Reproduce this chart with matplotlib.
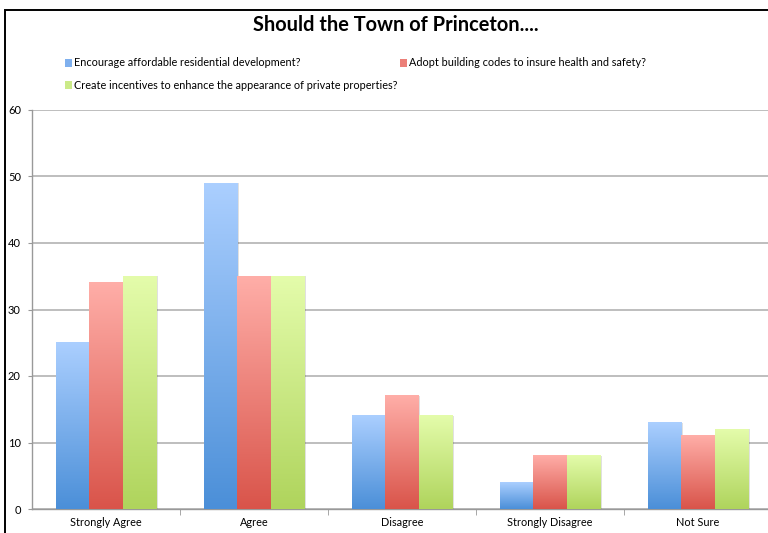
import numpy as np
import matplotlib
matplotlib.use("Agg")
import matplotlib.pyplot as plt
from matplotlib.colors import LinearSegmentedColormap
from matplotlib.patches import Rectangle

plt.rcParams['font.family'] = ['Lato', 'DejaVu Sans']

# 数据
categories = ["Strongly Agree", "Agree", "Disagree", "Strongly Disagree", "Not Sure"]
series_names = [
    "Encourage affordable residential development?",
    "Adopt building codes to insure health and safety?",
    "Create incentives to enhance the appearance of private properties?",
]
encourage = [25, 49, 14, 4, 13]
building_codes = [34, 35, 17, 8, 11]
incentives = [35, 35, 14, 8, 12]
y_ticks = [0, 10, 20, 30, 40, 50, 60]

# 渐变颜色 (顶部, 底部)
grad_colors = [("#abcfff", "#4b8fd8"), ("#ffaea8", "#d9544a"), ("#e4fcab", "#afd45c")]
legend_colors = ["#7fb0ee", "#ec7f78", "#cbea88"]

W, H = 768, 533
fig = plt.figure(figsize=(W / 100, H / 100), dpi=100)

# 外框
fig.patches.append(Rectangle((5 / W, -0.05), 1.2, (H - 10) / H + 0.05, transform=fig.transFigure,
                             fill=False, edgecolor="black", linewidth=1.4, zorder=0))

ax = fig.add_axes([32 / W, (H - 509) / H, 740 / W, 399 / H])

n = len(categories)
x = np.arange(n)
bw = 0.225
grad = np.linspace(1, 0, 256).reshape(-1, 1)

for i, vals in enumerate([encourage, building_codes, incentives]):
    cmap = LinearSegmentedColormap.from_list(f"g{i}", [grad_colors[i][1], grad_colors[i][0]])
    for j, v in enumerate(vals):
        x0 = x[j] + (i - 1) * bw - bw / 2
        # 阴影
        ax.add_patch(Rectangle((x0 + 0.012, 0), bw, v, facecolor="#000000", alpha=0.12,
                               edgecolor="none", zorder=2))
        ax.imshow(grad, extent=[x0, x0 + bw, 0, v], aspect="auto", cmap=cmap,
                  vmin=0, vmax=1, zorder=3, interpolation="bilinear")

ax.set_xlim(-0.5, n - 0.5)
ax.set_ylim(0, 60)
ax.set_yticks(y_ticks)
ax.set_yticklabels([str(t) for t in y_ticks], fontsize=8)
ax.grid(axis="y", color="#b3b3b3", linewidth=1.2, zorder=1)
ax.set_axisbelow(True)

ax.set_xticks(x)
ax.set_xticklabels(categories, fontsize=7.8)
ax.tick_params(axis="x", length=0, pad=6)
ax.set_xticks(np.arange(n - 1) + 0.5, minor=True)
ax.tick_params(axis="x", which="minor", length=4, color="#999999", direction="out")
ax.tick_params(axis="y", length=3, color="#999999", pad=5)

for s in ["top", "right"]:
    ax.spines[s].set_visible(False)
for s in ["left", "bottom"]:
    ax.spines[s].set_color("#999999")
    ax.spines[s].set_linewidth(1.0)

# 标题
fig.text(396 / W, 1 - 25 / H, "Should the Town of Princeton....", ha="center", va="center",
         fontsize=14.4, fontweight="bold")

# 图例
legend_pos = [(65, 63), (400, 63), (65, 85)]
for i, (lx, ly) in enumerate(legend_pos):
    fig.patches.append(Rectangle((lx / W, 1 - (ly + 4) / H), 7 / W, 8 / H, transform=fig.transFigure,
                                 facecolor=legend_colors[i], edgecolor="none"))
    fig.text((lx + 9) / W, 1 - ly / H, series_names[i], ha="left", va="center", fontsize=7.8)

fig.savefig("out.png", dpi=100)
